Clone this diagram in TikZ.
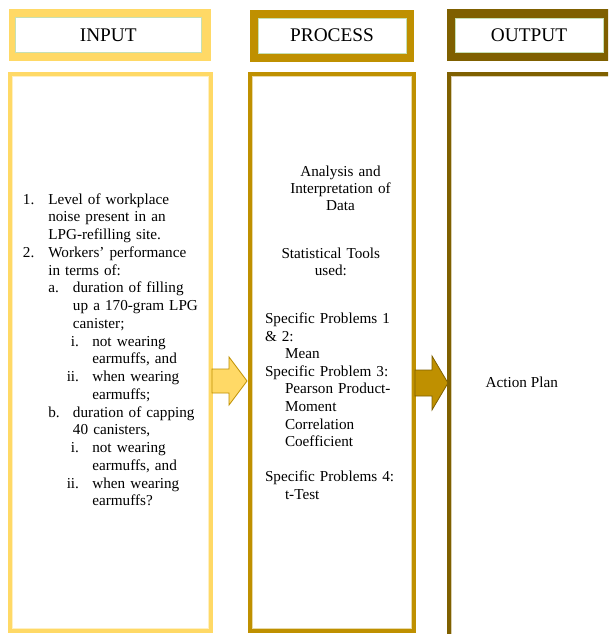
\documentclass[tikz,border=0pt]{standalone}
\usepackage{fontspec}
\setmainfont{Liberation Serif}
\definecolor{incol}{HTML}{FFD966}
\definecolor{inpale}{HTML}{FFF0C2}
\definecolor{procol}{HTML}{BF9000}
\definecolor{propale}{HTML}{E8D9A6}
\definecolor{outcol}{HTML}{7F6000}
\definecolor{outpale}{HTML}{D9CFB0}
\definecolor{hdrgreen}{HTML}{C6E0B4}
\newcommand\bodyfnt{\fontsize{15.2}{17.75}\selectfont}
\newcommand\hdrfnt{\fontsize{19.3}{23}\selectfont}
\tikzset{
  hdrout/.style={inner sep=0pt, outer sep=0pt},
  hdrin/.style={draw=hdrgreen, line width=0.9pt, fill=white, inner sep=0pt, outer sep=0pt, font=\hdrfnt},
  colbox/.style={line width=4pt, inner sep=0pt, outer sep=0pt},
  colpale/.style={line width=1.2pt, inner sep=0pt, outer sep=0pt},
  bodytext/.style={inner sep=0pt, outer sep=0pt, font=\bodyfnt},
  blockarrow/.style={line width=0.8pt, line join=miter}
}
\begin{document}
\begin{tikzpicture}[x=1pt, y=-1pt]
\useasboundingbox (0,0) rectangle (608,634);
\fill[white] (0,0) rectangle (608,634);
\begin{scope}
\clip (0,0) rectangle (608,634);

% header boxes
\node[hdrout, fill=incol, minimum width=202pt, minimum height=52pt] (inhead) at (109.5,35) {};
\node[hdrin, minimum width=185.5pt, minimum height=34.6pt] (inhdr) at (108.25,35) {INPUT};
\node[hdrout, fill=procol, minimum width=164pt, minimum height=52pt] (prohead) at (332,36) {};
\node[hdrin, minimum width=148pt, minimum height=34.7pt] (prohdr) at (332,35.65) {PROCESS};
\node[hdrout, fill=outcol, minimum width=173pt, minimum height=51.7pt] (outhead) at (533.5,35.15) {};
\node[hdrin, minimum width=148pt, minimum height=34pt] (outhdr) at (529,35) {OUTPUT};

% columns
\node[colbox, draw=incol, minimum width=201pt, minimum height=557.6pt] (incolumn) at (110.5,352.5) {};
\node[colpale, draw=inpale, minimum width=195.8pt, minimum height=552.4pt] (incolpale) at (incolumn.center) {};
\node[colbox, draw=procol, minimum width=164pt, minimum height=557.6pt] (procolumn) at (332,352.5) {};
\node[colpale, draw=propale, minimum width=158.8pt, minimum height=552.4pt] (procolpale) at (procolumn.center) {};
\node[colbox, draw=outcol, minimum width=200pt, minimum height=626.3pt] (outcolumn) at (549,386.85) {};
\node[colpale, draw=outpale, minimum width=194.8pt, minimum height=621.1pt] (outcolpale) at (outcolumn.center) {};

% block arrows
\draw[blockarrow, fill=incol, draw=procol]
  (212,369) -- (229,369) -- (229,357) -- (247,381) -- (229,405) -- (229,393) -- (212,393) -- cycle;
\draw[blockarrow, fill=procol, draw=outcol]
  (415,370) -- (432,370) -- (432,356) -- (448,383) -- (432,410) -- (432,396) -- (415,396) -- cycle;

% input list
\node[bodytext, anchor=base west, text width=200pt, align=left] (inlist) at (23,204) {%
\makebox[25.3pt][l]{1.}Level of workplace\\
\hspace*{25.3pt}noise present in an\\
\hspace*{25.3pt}LPG-refilling site.\\
\makebox[25.3pt][l]{2.}Workers’ performance\\
\hspace*{25.3pt}in terms of:\\
\hspace*{25.3pt}\makebox[24.7pt][l]{a.}duration of filling\\
\hspace*{50pt}up a 170-gram LPG\\
\hspace*{50pt}canister;\\
\makebox[56pt][r]{i.}\hspace*{13.3pt}not wearing\\
\hspace*{69.3pt}earmuffs, and\\
\makebox[56pt][r]{ii.}\hspace*{13.3pt}when wearing\\
\hspace*{69.3pt}earmuffs;\\
\hspace*{25.3pt}\makebox[24.7pt][l]{b.}duration of capping\\
\hspace*{50pt}40 canisters,\\
\makebox[56pt][r]{i.}\hspace*{13.3pt}not wearing\\
\hspace*{69.3pt}earmuffs, and\\
\makebox[56pt][r]{ii.}\hspace*{13.3pt}when wearing\\
\hspace*{69.3pt}earmuffs?};

% process texts
\node[bodytext, anchor=base, text width=130pt, align=center, font=\fontsize{15.2}{17}\selectfont] (analysis) at (340.5,176.5) {Analysis and\\ Interpretation of\\ Data};
\node[bodytext, anchor=base, text width=130pt, align=center, font=\fontsize{15.2}{17.4}\selectfont] (stattools) at (330.8,258) {Statistical Tools\\ used:};
\node[bodytext, anchor=base west, text width=150pt, align=left, font=\fontsize{15.2}{17.6}\selectfont] (specific) at (265,323.5) {%
Specific Problems 1\\
\&~2:\\
\hspace*{20pt}Mean\\
Specific Problem 3:\\
\hspace*{20pt}Pearson Product-\\
\hspace*{20pt}Moment\\
\hspace*{20pt}Correlation\\
\hspace*{20pt}Coefficient\\
\mbox{}\\
Specific Problems 4:\\
\hspace*{20pt}t-Test};

% output text
\node[bodytext, anchor=base west] (actionplan) at (485.7,387.5) {Action Plan};
\end{scope}
\end{tikzpicture}
\end{document}
